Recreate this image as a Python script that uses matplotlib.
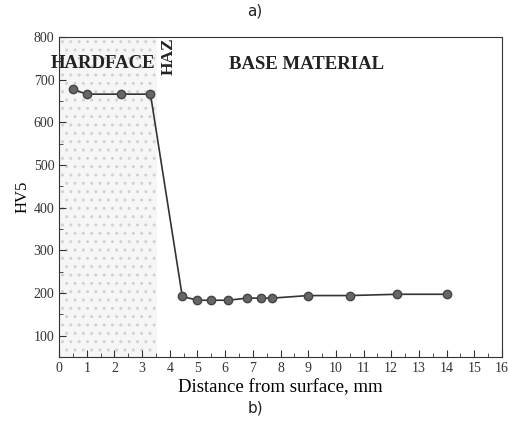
import matplotlib.pyplot as plt
from matplotlib.ticker import MultipleLocator

# hardness profile
distance = [0.5, 1.0, 2.25, 3.3, 4.45, 5.0, 5.5, 6.1, 6.8, 7.3, 7.7, 9.0, 10.5, 12.2, 14.0]
hv5 = [677, 666, 666, 666, 192, 183, 183, 183, 188, 188, 188, 194, 194, 197, 197]

hardface_end = 3.55
serif = ['Liberation Serif', 'DejaVu Serif']

fig = plt.figure(figsize=(5.1, 4.25), dpi=100)
ax = fig.add_axes([0.116, 0.16, 0.868, 0.753])

# dotted shading for the hardface zone
ax.axvspan(0, hardface_end, facecolor='#f6f6f6', edgecolor='#d2d2d2',
           hatch='..', linewidth=0, zorder=0)

ax.plot(distance, hv5, color='#333333', linewidth=1.2, marker='o',
        markersize=6, markerfacecolor='#666666', markeredgecolor='#444444', zorder=3)

ax.set_xlim(0, 16)
ax.set_ylim(50, 800)
ax.xaxis.set_major_locator(MultipleLocator(1))
ax.xaxis.set_minor_locator(MultipleLocator(0.5))
ax.yaxis.set_major_locator(MultipleLocator(100))
ax.yaxis.set_minor_locator(MultipleLocator(50))
ax.tick_params(which='both', direction='in', top=False, right=False,
               labelsize=10, colors='#333333')
ax.tick_params(which='major', length=5)
ax.tick_params(which='minor', length=3)
ax.set_yticks([100, 200, 300, 400, 500, 600, 700, 800])
for lab in ax.get_xticklabels() + ax.get_yticklabels():
    lab.set_family(serif)

for sp in ax.spines.values():
    sp.set_color('#333333')

ax.set_xlabel('Distance from surface, mm', family=serif, fontsize=13.5, labelpad=3)
ax.set_ylabel('HV5', family=serif, fontsize=12, labelpad=2)

ax.text(1.6, 738, 'HARDFACE', family=serif, fontweight='bold', fontsize=13.5,
        ha='center', va='center', color='#222222')
ax.text(3.95, 755, 'HAZ', family=serif, fontweight='bold', fontsize=12.5,
        ha='center', va='center', rotation=90, color='#222222')
ax.text(8.95, 735, 'BASE MATERIAL', family=serif, fontweight='bold', fontsize=13.5,
        ha='center', va='center', color='#222222')

fig.text(0.5, 0.975, 'a)', ha='center', va='center', fontsize=11, color='#222222')
fig.text(0.5, 0.04, 'b)', ha='center', va='center', fontsize=11, color='#222222')

fig.savefig('out.png', dpi=100)
